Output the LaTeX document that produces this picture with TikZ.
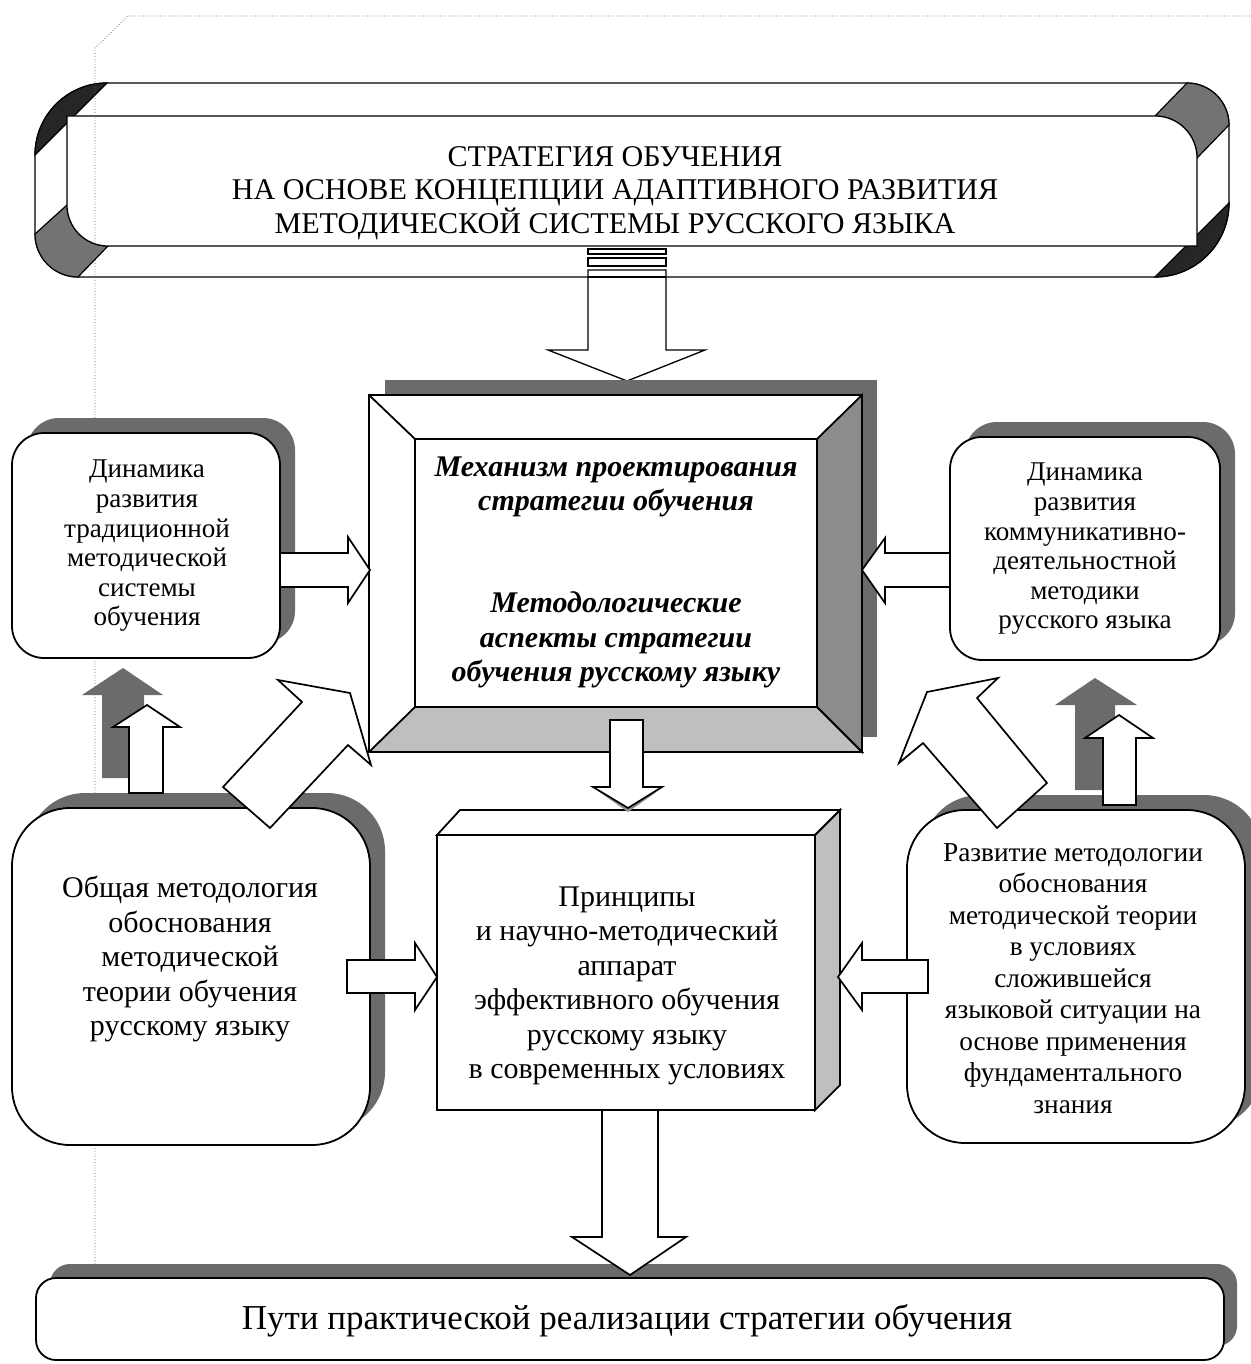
\documentclass[tikz,border=0pt]{standalone}
\usepackage{fontspec}
\setmainfont{Liberation Serif}
\begin{document}
\begin{tikzpicture}[x=1pt,y=-1pt,
  bx/.style={draw=black,line width=1.8pt,fill=white},
  shd/.style={fill=black!58,draw=none},
  barrow/.style={draw=black,line width=1.7pt,fill=white,line join=miter},
  garrow/.style={fill=black!58,draw=none},
  txt/.style={align=center,inner sep=0pt,text=black},
  dotline/.style={draw=black!60,dotted,line width=0.8pt},
  thin/.style={draw=black,line width=1.2pt}
]
\useasboundingbox (0,0) rectangle (1250,1364);
\fill[white] (0,0) rectangle (1250,1364);

% ---------- banner (horizontal scroll) ----------
\path[thin,fill=white] (35,155) arc[start angle=180,end angle=270,radius=72]
  -- (1187,83) arc[start angle=270,end angle=360,radius=42]
  -- (1229,203) arc[start angle=0,end angle=90,radius=74]
  -- (78,277) arc[start angle=90,end angle=180,radius=43] -- cycle;
% dark crescents
\path[thin,fill=black!85] (35,155) arc[start angle=180,end angle=270,radius=72] -- cycle;
\path[thin,fill=black!85] (1229,203) arc[start angle=0,end angle=90,radius=74] -- cycle;
% folds
\path[thin,fill=black!55] (1155,116) arc[start angle=270,end angle=360,radius=42]
  -- (1229,125) arc[start angle=0,end angle=-90,radius=42] -- cycle;
\path[thin,fill=black!55] (67,205) arc[start angle=180,end angle=90,radius=41]
  -- (78,277) arc[start angle=90,end angle=180,radius=43] -- cycle;
% inner panel
\path[thin,fill=white] (67,116) -- (1155,116) arc[start angle=270,end angle=360,radius=42]
  -- (1197,246) -- (108,246) arc[start angle=90,end angle=180,radius=41] -- cycle;
\node[txt,font={\fontsize{30.1}{33.3}\selectfont}] (banner) at (615,193)
  {СТРАТЕГИЯ ОБУЧЕНИЯ\\НА ОСНОВЕ КОНЦЕПЦИИ АДАПТИВНОГО РАЗВИТИЯ\\МЕТОДИЧЕСКОЙ СИСТЕМЫ РУССКОГО ЯЗЫКА};

% dotted frame
\draw[dotline] (1250,16) -- (128,16) -- (95,48) -- (95,1278);

% ---------- striped arrow from banner ----------
\draw[barrow,line width=1.3pt] (588,249) rectangle (666,254);
\draw[barrow,line width=1.3pt] (588,258) rectangle (666,266);
\draw[barrow,line width=1.3pt] (588,270) -- (666,270) -- (666,350) -- (705,350) -- (627,381)
  -- (548,350) -- (588,350) -- cycle;
\draw[thin] (588,277) -- (666,277);

% ---------- top side boxes ----------
\fill[shd,rounded corners=32] (27,418) rectangle (295,643);
\draw[bx,rounded corners=32] (12,433) rectangle (280,658);
\node[txt,font={\fontsize{27.1}{29.6}\selectfont}] (tl) at (147,546)
  {Динамика\\развития\\традиционной\\методической\\системы\\обучения};

\fill[shd,rounded corners=32] (965,422) rectangle (1235,645);
\draw[bx,rounded corners=32] (950,437) rectangle (1220,660);
\node[txt,font={\fontsize{27.1}{29.6}\selectfont}] (tr) at (1085,549)
  {Динамика\\развития\\коммуникативно-\\деятельностной\\методики\\русского языка};

% ---------- central bevel box ----------
\fill[shd] (385,380) rectangle (877,737);
\draw[bx] (369,395) rectangle (862,752);
\draw[line width=1.8pt,fill=black!45,line join=miter] (862,395) -- (862,752) -- (817,707) -- (817,439) -- cycle;
\draw[line width=1.8pt,fill=black!25,line join=miter] (369,752) -- (862,752) -- (817,707) -- (415,707) -- cycle;
\draw[line width=1.8pt] (369,395) -- (415,439);
\draw[line width=1.8pt] (369,395) rectangle (862,752);
\draw[line width=1.8pt,fill=white] (415,439) rectangle (817,707);
\node[txt,font={\fontsize{30}{34.5}\selectfont\bfseries\itshape}] (mech) at (616,487)
  {Механизм проектирования\\стратегии обучения};
\node[txt,font={\fontsize{30}{34.5}\selectfont\bfseries\itshape}] (meth) at (616,640)
  {Методологические\\аспекты стратегии\\обучения русскому языку};

% ---------- up arrows (shadowed) ----------
\fill[garrow] (102,778) -- (102,695) -- (82,695) -- (123,668) -- (163,695) -- (144,695) -- (144,778) -- cycle;
\fill[garrow] (1075,790) -- (1075,705) -- (1055,705) -- (1095,678) -- (1137,705) -- (1115,705) -- (1115,790) -- cycle;

% ---------- bottom side boxes ----------
\fill[shd,rounded corners=58] (27,793) rectangle (385,1130);
\draw[bx,rounded corners=58] (12,808) rectangle (370,1145);
\node[txt,font={\fontsize{30}{34.5}\selectfont}] (bl) at (190,959)
  {Общая методология\\обоснования\\методической\\теории обучения\\русскому языку};

\fill[shd,rounded corners=58] (922,795) rectangle (1262,1128);
\draw[bx,rounded corners=58] (907,810) rectangle (1245,1143);
\node[txt,font={\fontsize{27.3}{31.5}\selectfont}] (br) at (1073,978.5)
  {Развитие методологии\\обоснования\\методической теории\\в условиях\\сложившейся\\языковой ситуации на\\основе применения\\фундаментального\\знания};

\draw[barrow] (129,793) -- (129,727) -- (113,727) -- (147,705) -- (180,727) -- (163,727) -- (163,793) -- cycle;
\draw[barrow] (1103,805) -- (1103,738) -- (1085,738) -- (1119,715) -- (1153,738) -- (1136,738) -- (1136,805) -- cycle;

% ---------- cube ----------
\draw[line width=1.8pt,fill=black!25,line join=miter] (815,835) -- (840,810) -- (840,1085) -- (815,1110) -- cycle;
\draw[line width=1.8pt,fill=white,line join=miter] (437,835) -- (460,810) -- (840,810) -- (815,835) -- cycle;
\draw[bx] (437,835) rectangle (815,1110);
\node[txt,font={\fontsize{30}{34.5}\selectfont}] (cube) at (627,986)
  {Принципы\\и научно-методический\\аппарат\\эффективного обучения\\русскому языку\\в современных условиях};

% ---------- diagonal arrows ----------
\draw[barrow] (223,787) -- (302,702) -- (278,680) -- (350,693) -- (371,765) -- (348,745) -- (270,828) -- cycle;
\draw[barrow] (1047,783) -- (977,698) -- (998,678) -- (927,692) -- (899,763) -- (923,743) -- (997,828) -- cycle;

% ---------- horizontal arrows ----------
\draw[barrow] (280,553) -- (348,553) -- (348,537) -- (370,570) -- (348,603) -- (348,587) -- (280,587) -- cycle;
\draw[barrow] (950,553) -- (885,553) -- (885,538) -- (862,570) -- (885,603) -- (885,587) -- (950,587) -- cycle;
\draw[barrow] (347,960) -- (415,960) -- (415,943) -- (437,977) -- (415,1010) -- (415,993) -- (347,993) -- cycle;
\draw[barrow] (928,960) -- (862,960) -- (862,943) -- (838,977) -- (862,1010) -- (862,993) -- (928,993) -- cycle;

% ---------- small down arrow ----------
\fill[black!45] (598,791) -- (628,812) -- (658,791) -- (628,806) -- cycle;
\draw[barrow] (610,720) -- (643,720) -- (643,787) -- (662,787) -- (628,808) -- (593,787) -- (610,787) -- cycle;

% ---------- bottom box ----------
\fill[shd,rounded corners=20] (50,1264) rectangle (1237,1346);
\draw[bx,rounded corners=20] (36,1278) rectangle (1224,1360);
\node[txt,font={\fontsize{35}{40}\selectfont}] (ways) at (627,1321)
  {Пути практической реализации стратегии обучения};

\draw[barrow] (602,1110) -- (658,1110) -- (658,1237) -- (686,1237) -- (630,1275) -- (572,1237) -- (602,1237) -- cycle;
\end{tikzpicture}
\end{document}
